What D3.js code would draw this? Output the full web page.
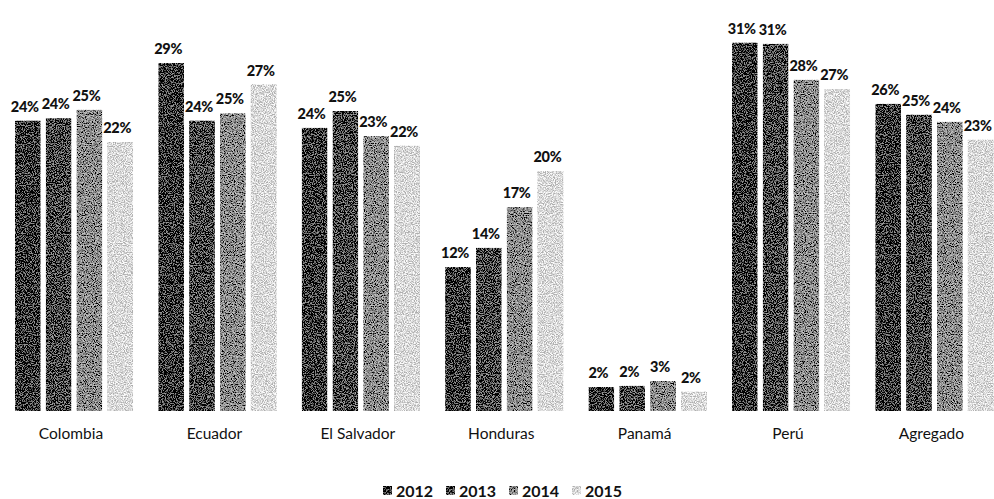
<!DOCTYPE html>
<html>
<head>
<meta charset="utf-8">
<script src="https://cdn.jsdelivr.net/npm/d3@7"></script>
<style>
  html, body { margin: 0; padding: 0; background: #fff; }
  svg { display: block; }
  text { font-family: Lato, "Open Sans", sans-serif; fill: #111; }
</style>
</head>
<body>
<svg id="chart" width="994" height="499"></svg>
<script>
// Share per country and year (percent)
const categories = ["Colombia", "Ecuador", "El Salvador", "Honduras", "Panamá", "Perú", "Agregado"];
const years = ["2012", "2013", "2014", "2015"];
const values2012 = [24.2, 29.0, 23.6, 12.0, 2.0, 30.7, 25.6];
const values2013 = [24.4, 24.2, 25.0, 13.6, 2.1, 30.6, 24.7];
const values2014 = [25.1, 24.8, 22.9, 17.0, 2.5, 27.6, 24.1];
const values2015 = [22.4, 27.2, 22.1, 20.0, 1.6, 26.8, 22.6];
const seriesValues = [values2012, values2013, values2014, values2015];
const seriesColors = ["#2a2a2a", "#474747", "#8e8e8e", "#dadada"];

const svg = d3.select("#chart");
const baseline = 411;

// stipple texture for the bars
const defs = svg.append("defs");
const grain = defs.append("filter").attr("id", "grain")
  .attr("x", 0).attr("y", 0).attr("width", 1).attr("height", 1);
grain.append("feTurbulence").attr("type", "fractalNoise")
  .attr("baseFrequency", 0.9).attr("numOctaves", 2).attr("seed", 7).attr("result", "noise");
grain.append("feColorMatrix").attr("in", "noise").attr("type", "matrix")
  .attr("values", "3 0 0 0 -1  3 0 0 0 -1  3 0 0 0 -1  0 0 0 0 1").attr("result", "gray");
grain.append("feComposite").attr("in", "SourceGraphic").attr("in2", "gray")
  .attr("operator", "arithmetic").attr("k1", 0).attr("k2", 1).attr("k3", 0.55).attr("k4", -0.275)
  .attr("result", "mix");
grain.append("feComposite").attr("in", "mix").attr("in2", "SourceGraphic").attr("operator", "in");

const x0 = d3.scaleBand()
  .domain(categories)
  .range([2.3, 1006.1])
  .paddingInner(0.177)
  .paddingOuter(0.0885);

const x1 = d3.scaleBand()
  .domain(years)
  .range([0, x0.bandwidth()])
  .paddingInner(0.17)
  .paddingOuter(0);

const y = d3.scaleLinear().domain([0, 31]).range([baseline, baseline - 31 * 12]);

const fmt = v => d3.format(".0f")(v) + "%";

const rows = [];
categories.forEach((c, i) => {
  years.forEach((yr, j) => rows.push({ cat: c, year: yr, value: seriesValues[j][i], s: j }));
});

const groups = svg.append("g");
groups.selectAll("rect.bar")
  .data(rows)
  .join("rect")
  .attr("class", "bar")
  .attr("x", d => x0(d.cat) + x1(d.year))
  .attr("y", d => y(d.value))
  .attr("width", x1.bandwidth())
  .attr("height", d => baseline - y(d.value))
  .attr("fill", d => seriesColors[d.s])
  .attr("filter", "url(#grain)");

// value labels
groups.selectAll("text.val")
  .data(rows)
  .join("text")
  .attr("class", "val")
  .attr("x", d => x0(d.cat) + x1(d.year) + x1.bandwidth() / 2 - 3)
  .attr("y", d => y(d.value) - 9)
  .attr("text-anchor", "middle")
  .style("font-size", "14.5px")
  .style("font-weight", "900")
  .style("letter-spacing", "-0.3px")
  .text(d => fmt(d.value));

// category axis labels
const xAxis = d3.axisBottom(x0).tickSize(0).tickPadding(0);
const axisG = svg.append("g").attr("transform", `translate(-3,${baseline + 17})`).call(xAxis);
axisG.select(".domain").remove();
axisG.selectAll("text")
  .style("font-size", "15.5px")
  .style("font-family", "Lato, 'Open Sans', sans-serif")
  .attr("fill", "#111");

// legend
const legend = svg.append("g").attr("transform", "translate(383,491)");
const item = legend.selectAll("g").data(years).join("g")
  .attr("transform", (d, i) => `translate(${i * 63},0)`);
item.append("rect")
  .attr("x", 0).attr("y", -5).attr("width", 9).attr("height", 9)
  .attr("fill", (d, i) => seriesColors[i])
  .attr("filter", "url(#grain)");
item.append("text")
  .attr("x", 13).attr("y", 5.5)
  .style("font-size", "16px")
  .style("font-weight", "bold")
  .text(d => d);
</script>
</body>
</html>
